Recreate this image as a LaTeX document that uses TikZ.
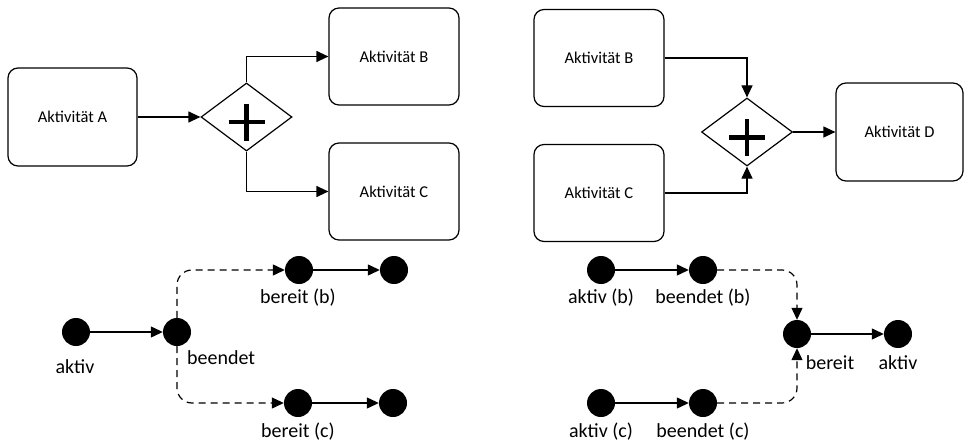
\documentclass[tikz,border=0pt]{standalone}
\usepackage{fontspec}
\setmainfont{Carlito}
\usetikzlibrary{shapes.geometric,arrows.meta}
\tikzset{
  box/.style={draw, rounded corners=10pt, minimum width=130pt, minimum height=97pt, line width=1.2pt, inner sep=0pt, font=\fontsize{16.5}{19}\selectfont},
  gate/.style={draw, diamond, minimum width=91pt, minimum height=68pt, inner sep=0pt, line width=1.2pt},
  dot/.style={circle, fill=black, minimum size=28pt, inner sep=0pt},
  lbl/.style={font=\fontsize{20}{24}\selectfont, inner sep=0pt},
  conn/.style={line width=1.2pt, -{Triangle[length=12pt,width=11pt]}},
  dconn/.style={conn, dash pattern=on 7pt off 5pt, rounded corners=15pt},
  plus/.style={line width=4.5pt}
}
\begin{document}
\begin{tikzpicture}[x=1pt,y=-1pt]
\useasboundingbox (0,0) rectangle (964,444);
% top left
\node[box, minimum width=129pt, minimum height=98pt] (A) at (72.5,117) {Aktivität A};
\node[gate] (g1) at (246.5,117) {};
\node[box] (B) at (394,56.5) {Aktivität B};
\node[box] (C) at (394,191.5) {Aktivität C};
\draw[plus] ([yshift=-5pt]g1.center) +(-18,0) -- +(18,0) +(0,-18.5) -- +(0,18.5);
\draw[conn] (A.east) -- (g1.west);
\draw[conn] (g1.north) |- (B.west);
\draw[conn] (g1.south) |- (C.west);
% top right
\node[box] (B2) at (599,58) {Aktivität B};
\node[box] (C2) at (599,193) {Aktivität C};
\node[gate] (g2) at (747,132) {};
\node[box, minimum width=127pt, minimum height=98pt] (D) at (899.5,132) {Aktivität D};
\draw[plus] ([yshift=-5.5pt]g2.center) +(-18,0) -- +(18,0) +(0,-18.5) -- +(0,18.5);
\draw[conn] (B2.east) -| (g2.north);
\draw[conn] (C2.east) -| (g2.south);
\draw[conn] (g2.east) -- (D.west);
% bottom left
\node[dot] (a1) at (76,332) {};
\node[dot] (a2) at (177,332) {};
\node[dot] (b1) at (299,270) {};
\node[dot] (b2) at (394,270) {};
\node[dot] (c1) at (298,403) {};
\node[dot] (c2) at (393,403) {};
\node[lbl] (la1) at (75,367) {aktiv};
\node[lbl, anchor=west] (la2) at (187,358) {beendet};
\node[lbl] (lb1) at (298,298) {bereit (b)};
\node[lbl] (lc1) at (298,432) {bereit (c)};
\draw[conn] (a1) -- (a2);
\draw[conn] (b1) -- (b2);
\draw[conn] (c1) -- (c2);
\draw[dconn] (a2.north) |- (b1.west);
\draw[dconn] (a2.south) |- (c1.west);
% bottom right
\node[dot] (p1) at (601,270) {};
\node[dot] (p2) at (703,270) {};
\node[dot] (q1) at (601,403) {};
\node[dot] (q2) at (703,403) {};
\node[dot] (r1) at (797,334) {};
\node[dot] (r2) at (898,334) {};
\node[lbl] (lp1) at (601,298) {aktiv (b)};
\node[lbl] (lp2) at (703,298) {beendet (b)};
\node[lbl] (lq1) at (601,432) {aktiv (c)};
\node[lbl] (lq2) at (703,432) {beendet (c)};
\node[lbl] (lr1) at (830,363) {bereit};
\node[lbl] (lr2) at (898,363) {aktiv};
\draw[conn] (p1) -- (p2);
\draw[conn] (q1) -- (q2);
\draw[conn] (r1) -- (r2);
\draw[dconn] (p2.east) -| (r1.north);
\draw[dconn] (q2.east) -| (r1.south);
\end{tikzpicture}
\end{document}
